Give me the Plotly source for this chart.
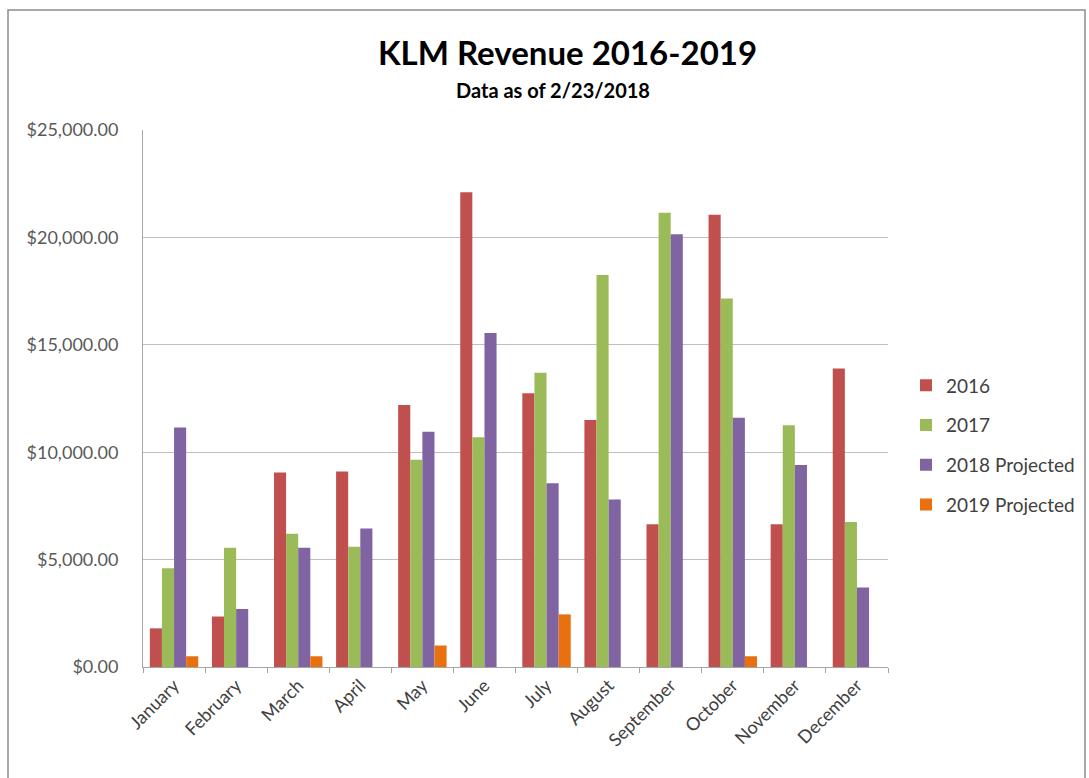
import plotly.graph_objects as go

months = ["January", "February", "March", "April", "May", "June", "July",
          "August", "September", "October", "November", "December"]
rev_2016 = [1800, 2350, 9050, 9100, 12200, 22100, 12750, 11500, 6650, 21050, 6650, 13900]
rev_2017 = [4600, 5550, 6200, 5600, 9650, 10700, 13700, 18250, 21150, 17150, 11250, 6750]
rev_2018p = [11150, 2700, 5550, 6450, 10950, 15550, 8550, 7800, 20150, 11600, 9400, 3700]
rev_2019p = [500, None, 500, None, 1000, None, 2450, None, None, 500, None, None]

series = [
    ("2016", rev_2016, "#C0504D"),
    ("2017", rev_2017, "#9BBB59"),
    ("2018 Projected", rev_2018p, "#8064A2"),
    ("2019 Projected", rev_2019p, "#E8700E"),
]

fig = go.Figure()
for i, (name, vals, col) in enumerate(series):
    fig.add_trace(go.Bar(x=months, y=vals, name=name, marker_color=col,
                         marker_line_width=0, legendgroup=str(i)))

W, H = 1089, 778
L, R, T, B = 143, 888, 130, 667

def px(xp):
    return (xp - L) / (R - L)

def py(yp):
    return (B - yp) / (B - T)

fig.update_layout(
    width=W, height=H,
    margin=dict(l=L, r=W - R, t=T, b=H - B, autoexpand=False),
    paper_bgcolor="white", plot_bgcolor="white",
    barmode="group", bargap=0.22, bargroupgap=0,
    font=dict(family="Lato, Open Sans, sans-serif", color="#595959", size=18),
    legend=dict(x=px(906), y=py(445), xanchor="left", yanchor="middle",
                font=dict(size=19, color="#404040"), tracegroupgap=12,
                itemwidth=30),
    showlegend=True,
)
fig.update_xaxes(
    type="category", showline=True, linecolor="#A6A6A6", linewidth=1,
    ticks="outside", tickson="boundaries", ticklen=5, tickcolor="#A6A6A6",
    tickangle=-45, tickfont=dict(size=18, color="#404040"), showgrid=False,
)
fig.update_yaxes(
    range=[0, 25000], dtick=5000, tickformat="$,.2f",
    showline=True, linecolor="#A6A6A6", linewidth=1,
    showgrid=True, gridcolor="#BFBFBF", gridwidth=1,
    zeroline=False, ticks="", ticklabelstandoff=20,
    tickfont=dict(size=18, color="#595959"),
)

# chart border
fig.add_shape(type="rect", xref="paper", yref="paper",
              x0=px(8), x1=px(1085), y0=py(800), y1=py(10),
              line=dict(color="#8C8C8C", width=1.5), fillcolor="rgba(0,0,0,0)",
              layer="below")

fig.add_annotation(text="<b>KLM Revenue 2016-2019</b>", xref="paper", yref="paper",
                   x=px(567), y=py(52), showarrow=False, xanchor="center", yanchor="middle",
                   font=dict(size=33, color="#000000"))
fig.add_annotation(text="<b>Data as of 2/23/2018</b>", xref="paper", yref="paper",
                   x=px(553), y=py(90), showarrow=False, xanchor="center", yanchor="middle",
                   font=dict(size=20, color="#000000"))

fig.write_html("out.html")
